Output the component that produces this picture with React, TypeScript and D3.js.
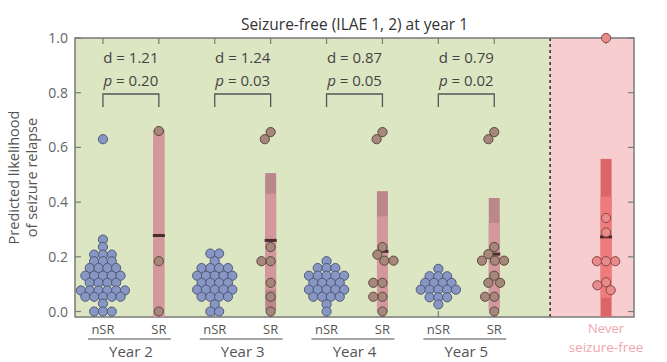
import React from 'react';
import * as d3 from 'd3';

const years = ['Year 2', 'Year 3', 'Year 4', 'Year 5'];
const dValues = ['1.21', '1.24', '0.87', '0.79'];
const pValues = ['0.20', '0.03', '0.05', '0.02'];
const yTicks = [0, 0.2, 0.4, 0.6, 0.8, 1.0];

// predicted likelihood per patient, non-relapse (nSR) groups
const nsrValues: number[][] = [
  [0.63, 0.263, 0.236, 0.208, 0.208, 0.208, 0.184, 0.184, 0.184, 0.159, 0.159, 0.159, 0.159,
    0.131, 0.131, 0.131, 0.131, 0.131, 0.105, 0.105, 0.105, 0.105,
    0.077, 0.077, 0.077, 0.077, 0.077, 0.077, 0.054, 0.054, 0.054, 0.054, 0.054,
    0.029, 0, 0, 0],
  [0.212, 0.212, 0.184, 0.159, 0.159, 0.159, 0.159, 0.131, 0.131, 0.131, 0.131, 0.131,
    0.105, 0.105, 0.105, 0.105, 0.08, 0.08, 0.08, 0.08, 0.08,
    0.054, 0.054, 0.054, 0.054, 0.026, 0, 0],
  [0.184, 0.159, 0.159, 0.159, 0.131, 0.131, 0.131, 0.131, 0.131, 0.105, 0.105, 0.105, 0.105,
    0.08, 0.08, 0.08, 0.08, 0.08, 0.054, 0.054, 0.054, 0.054, 0.026, 0],
  [0.156, 0.129, 0.129, 0.129, 0.105, 0.105, 0.105, 0.105, 0.08, 0.08, 0.08, 0.08, 0.08,
    0.052, 0.052, 0.052, 0.026],
];
const nsrMedian = [0.105, 0.105, 0.105, 0.08];

// relapse (SR) groups
const srValues: number[][] = [
  [0.66, 0.184, 0],
  [0.656, 0.63, 0.236, 0.184, 0.184, 0.105, 0.054, 0],
  [0.656, 0.63, 0.236, 0.208, 0.186, 0.186, 0.105, 0.105, 0.054, 0.054, 0],
  [0.656, 0.63, 0.236, 0.21, 0.186, 0.186, 0.186, 0.131, 0.105, 0.105, 0.054, 0.054, 0],
];
const srEstimate = [0.278, 0.26, 0.22, 0.21];
const srOuter: [number, number][] = [[-0.02, 0.664], [0.005, 0.506], [0, 0.44], [0.007, 0.415]];
const srInner: [number, number][] = [[-0.02, 0.664], [0.08, 0.43], [0, 0.348], [0.007, 0.324]];

// never seizure-free group
const neverValues = [1.0, 0.342, 0.289, 0.184, 0.184, 0.184, 0.107, 0.096, 0.078];
const neverEstimate = 0.273;
const neverOuter: [number, number] = [-0.02, 0.558];
const neverInner: [number, number] = [0.05, 0.42];

const W = 667;
const H = 362;
const left = 75, right = 634, top = 38, bottom = 317;
const font = '"Open Sans", "Noto Sans", sans-serif';
const axisColor = '#7a7a7a';
const R = 4.6;

const x = d3.scaleLinear().domain([0.5, 10.5]).range([left, right]);
const y = d3.scaleLinear().domain([-0.02, 1]).range([bottom, top]);

// dense groups: dots with the same value sit in a centred row
function rowLayout(vals: number[], spacing: number) {
  const rows = d3.group(vals, v => v.toFixed(3));
  const out: { v: number; dx: number }[] = [];
  rows.forEach(list => {
    list.forEach((v, i) => out.push({ v, dx: (i - (list.length - 1) / 2) * spacing }));
  });
  return out;
}

// sparse groups: simple beeswarm, closest free spot to the centre
function swarmLayout(vals: number[], dist: number) {
  const placed: { v: number; dx: number; py: number }[] = [];
  [...vals].sort((a, b) => b - a).forEach(v => {
    const py = y(v);
    const cands = [0];
    placed.forEach(p => {
      const dy = Math.abs(p.py - py);
      if (dy < dist) {
        const w = Math.sqrt(dist * dist - dy * dy);
        cands.push(p.dx - w, p.dx + w);
      }
    });
    cands.sort((a, b) => Math.abs(a) - Math.abs(b) || a - b);
    const ok = cands.find(c => placed.every(p => Math.hypot(p.dx - c, p.py - py) >= dist - 0.01)) ?? 0;
    placed.push({ v, dx: ok, py });
  });
  return placed;
}

const Dots: React.FC<{ pts: { v: number; dx: number }[]; cx: number; fill: string; stroke: string }> = ({ pts, cx, fill, stroke }) => (
  <g>
    {pts.map((d, i) => (
      <circle key={i} cx={cx + d.dx} cy={y(d.v)} r={R} fill={fill} stroke={stroke} strokeWidth={1} />
    ))}
  </g>
);

const Band: React.FC<{ cx: number; outer: [number, number]; inner: [number, number]; est: number; dark: string; light: string }> =
  ({ cx, outer, inner, est, dark, light }) => (
    <g>
      <rect x={cx - 5.5} width={11} y={y(outer[1])} height={y(outer[0]) - y(outer[1])} fill={dark} />
      <rect x={cx - 5.5} width={11} y={y(inner[1])} height={y(inner[0]) - y(inner[1])} fill={light} />
      <rect x={cx - 6} width={12} y={y(est) - 1.5} height={3} fill="#4a2c2e" />
    </g>
  );

const App: React.FC = () => {
  const positions = [1, 2, 3, 4, 5, 6, 7, 8, 10];
  return (
    <svg width={W} height={H} style={{ position: 'absolute', left: 0, top: 0, background: '#fff' }} fontFamily={font}>
      {/* backgrounds */}
      <rect x={left} y={top} width={x(9) - left} height={bottom - top} fill="#dde6c3" />
      <rect x={x(9)} y={top} width={right - x(9)} height={bottom - top} fill="#f8cdd0" />
      <line x1={x(9)} x2={x(9)} y1={top} y2={bottom} stroke="#333" strokeWidth={1.6} strokeDasharray="3,3" />

      {/* frame */}
      <rect x={left} y={top} width={right - left} height={bottom - top} fill="none" stroke={axisColor} strokeWidth={1.5} />
      {yTicks.map(t => (
        <g key={t}>
          <line x1={left} x2={left + 6} y1={y(t)} y2={y(t)} stroke={axisColor} strokeWidth={1.2} />
          <line x1={right - 6} x2={right} y1={y(t)} y2={y(t)} stroke={axisColor} strokeWidth={1.2} />
          <text x={left - 7} y={y(t) + 5} textAnchor="end" fontSize={14} fill="#666">{t.toFixed(1)}</text>
        </g>
      ))}
      {positions.map(p => (
        <g key={p}>
          <line x1={x(p)} x2={x(p)} y1={top} y2={top + 6} stroke={axisColor} strokeWidth={1.2} />
          <line x1={x(p)} x2={x(p)} y1={bottom - 6} y2={bottom} stroke={axisColor} strokeWidth={1.2} />
        </g>
      ))}

      {/* title and y label */}
      <text x={(left + right) / 2} y={30} textAnchor="middle" fontSize={15.5} fill="#333">Seizure-free (ILAE 1, 2) at year 1</text>
      <g transform={`translate(19,${(top + bottom) / 2}) rotate(-90)`}>
        <text x={0} y={0} textAnchor="middle" fontSize={14.5} fill="#555">Predicted likelihood</text>
        <text x={0} y={18} textAnchor="middle" fontSize={14.5} fill="#555">of seizure relapse</text>
      </g>

      {/* year groups */}
      {years.map((yr, i) => {
        const a = x(2 * i + 1);
        const b = x(2 * i + 2);
        return (
          <g key={yr}>
            <Band cx={b} outer={srOuter[i]} inner={srInner[i]} est={srEstimate[i]} dark="#ba878b" light="#d3979c" />
            <rect x={a - 5} width={10} y={y(nsrMedian[i]) - 1.5} height={3} fill="#3b3f55" />
            <Dots pts={rowLayout(nsrValues[i], 8.8)} cx={a} fill="#8796c2" stroke="#4f5b7c" />
            <Dots pts={swarmLayout(srValues[i], 2 * R)} cx={b} fill="#a8877b" stroke="#5a4843" />

            <text x={(a + b) / 2} y={63} textAnchor="middle" fontSize={15} fill="#444">d = {dValues[i]}</text>
            <text x={(a + b) / 2} y={86} textAnchor="middle" fontSize={15} fill="#444">
              <tspan fontStyle="italic">p</tspan> = {pValues[i]}
            </text>
            <path d={`M${a},107V94H${b}V107`} fill="none" stroke="#555" strokeWidth={1.3} />

            <text x={a} y={334} textAnchor="middle" fontSize={13} fill="#555">nSR</text>
            <text x={b} y={334} textAnchor="middle" fontSize={13} fill="#555">SR</text>
            <line x1={a - 15} x2={b + 12} y1={339} y2={339} stroke="#888" strokeWidth={1.3} />
            <text x={(a + b) / 2} y={357} textAnchor="middle" fontSize={15} fill="#555">{yr}</text>
          </g>
        );
      })}

      {/* never seizure-free */}
      <Band cx={x(10)} outer={neverOuter} inner={neverInner} est={neverEstimate} dark="#dc6666" light="#ef7b7b" />
      <Dots pts={swarmLayout(neverValues, 2 * R)} cx={x(10)} fill="#e98a8b" stroke="#8a4647" />
      <text x={x(10)} y={333} textAnchor="middle" fontSize={13} fill="#f1a6ad">Never</text>
      <text x={x(10)} y={352} textAnchor="middle" fontSize={13.5} fill="#f1a6ad">seizure-free</text>
    </svg>
  );
};

export default App;
